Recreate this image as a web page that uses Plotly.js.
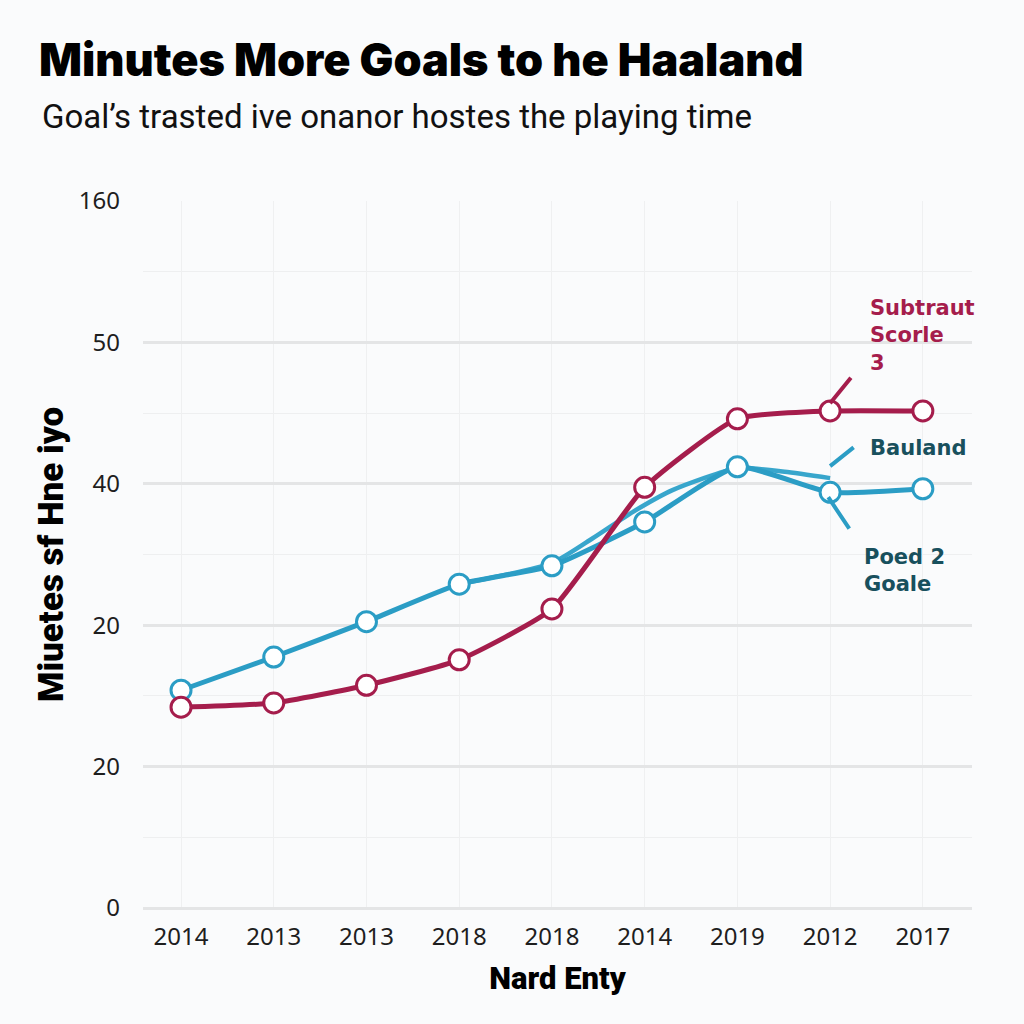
<!DOCTYPE html>
<html>
<head>
<meta charset="utf-8">
<script src="https://cdn.plot.ly/plotly-3.0.1.min.js"></script>
<style>
  html, body { margin: 0; padding: 0; background: #fafbfc; }
  #chart { width: 1024px; height: 1024px; }
</style>
</head>
<body>
<div id="chart"></div>
<script>
'use strict'

// categories (labels repeat, so positions are indexes)
var years = ['2014', '2013', '2013', '2018', '2018', '2014', '2019', '2012', '2017'];
var idx = [0, 1, 2, 3, 4, 5, 6, 7, 8];

// y ticks (labels as printed on the picture)
var yTickVals = [0, 20, 40, 60, 80, 100];
var yTickText = ['0', '20', '20', '40', '50', '160'];

// series values
var subtraut = [28.4, 29.0, 31.5, 35.1, 42.3, 59.5, 69.2, 70.3, 70.3];
var bauland = [30.8, 35.5, 40.5, 45.8, 48.4, 54.6, 62.4, 58.8, 59.3];

// second, fainter blue path
var poedX = [3, 4, 4.44, 4.87, 5.3, 6, 6.51, 7];
var poedY = [45.8, 48.8, 52.3, 56.0, 59.1, 62.2, 61.7, 60.8];

var red = '#a51d4c';
var blue = '#2b9dc5';
var teal = '#18505d';

var poedTrace = {
    type: 'scatter',
    mode: 'lines',
    x: poedX,
    y: poedY,
    line: {color: '#38a6cc', width: 4.5, shape: 'spline', smoothing: 0.6},
    hoverinfo: 'skip'
}

var baulandTrace = {
    type: 'scatter',
    mode: 'lines+markers',
    x: idx,
    y: bauland,
    line: {color: blue, width: 5, shape: 'spline', smoothing: 0.5},
    marker: {size: 20, color: '#ffffff', line: {color: blue, width: 3}},
    cliponaxis: false
}

var subtrautTrace = {
    type: 'scatter',
    mode: 'lines+markers',
    x: idx,
    y: subtraut,
    line: {color: red, width: 5, shape: 'spline', smoothing: 0.5},
    marker: {size: 20, color: '#ffffff', line: {color: red, width: 3}},
    cliponaxis: false
}

var annFont = {family: 'DejaVu Sans, sans-serif', size: 21, weight: 700};

var layout = {
    width: 1024,
    height: 1024,
    margin: {l: 143, r: 52, t: 201, b: 116},
    paper_bgcolor: '#fafbfc',
    plot_bgcolor: '#fafbfc',
    showlegend: false,
    title: {
        text: 'Minutes More Goals to he Haaland',
        font: {family: 'Inter, sans-serif', size: 45, weight: 900, color: '#000000'},
        xref: 'container',
        yref: 'container',
        x: 0.038,
        xanchor: 'left',
        y: 0.941,
        yanchor: 'middle'
    },
    xaxis: {
        range: [-0.41, 8.53],
        tickmode: 'array',
        tickvals: idx,
        ticktext: years,
        showgrid: true,
        gridcolor: '#eff0f1',
        gridwidth: 1,
        zeroline: false,
        showline: false,
        ticks: '',
        ticklabelstandoff: 12,
        tickfont: {family: 'Noto Sans, sans-serif', size: 24, color: '#1e1e1e'},
        title: {
            text: 'Nard Enty',
            font: {family: 'Roboto, sans-serif', size: 31, weight: 900, color: '#000000'},
            standoff: 16
        }
    },
    yaxis: {
        range: [0, 100],
        tickmode: 'array',
        tickvals: yTickVals,
        ticktext: yTickText,
        showgrid: true,
        gridcolor: '#e4e5e6',
        gridwidth: 3,
        zeroline: true,
        zerolinecolor: '#e4e5e6',
        zerolinewidth: 3,
        showline: false,
        ticks: '',
        ticklabelstandoff: 22,
        tickfont: {family: 'Noto Sans, sans-serif', size: 24, color: '#1e1e1e'},
        minor: {
            tickmode: 'array',
            tickvals: [10, 30, 50, 70, 90],
            showgrid: true,
            gridcolor: '#eeeff0',
            gridwidth: 1
        },
        title: {
            text: 'Miuetes sf Hne iyo',
            font: {family: 'Roboto, sans-serif', size: 35, weight: 900, color: '#000000'},
            standoff: 4
        }
    },
    annotations: [
        {
            xref: 'paper', yref: 'paper', x: -0.1242, y: 1.119,
            xanchor: 'left', yanchor: 'middle', showarrow: false,
            text: "Goal’s trasted ive onanor hostes the playing time",
            font: {family: 'Roboto, sans-serif', size: 33, color: '#111111'}
        },
        {
            xref: 'paper', yref: 'paper', x: 0.8745, y: 0.868,
            xanchor: 'left', yanchor: 'top', align: 'left', showarrow: false,
            text: 'Subtraut<br>Scorle<br>3',
            font: Object.assign({}, annFont, {color: red})
        },
        {
            xref: 'paper', yref: 'paper', x: 0.8745, y: 0.651,
            xanchor: 'left', yanchor: 'middle', showarrow: false,
            text: 'Bauland',
            font: Object.assign({}, annFont, {color: teal})
        },
        {
            xref: 'paper', yref: 'paper', x: 0.867, y: 0.478,
            xanchor: 'left', yanchor: 'middle', align: 'left', showarrow: false,
            text: 'Poed 2<br>Goale',
            font: Object.assign({}, annFont, {color: teal})
        },
        // pointer strokes
        {
            x: 7, y: 71.4, text: '', showarrow: true, arrowhead: 0,
            arrowwidth: 4, arrowcolor: red, ax: 22, ay: -27, standoff: 0
        },
        {
            x: 7, y: 62.5, text: '', showarrow: true, arrowhead: 0,
            arrowwidth: 4, arrowcolor: blue, ax: 25, ay: -20, standoff: 0
        },
        {
            x: 6.98, y: 58.1, text: '', showarrow: true, arrowhead: 0,
            arrowwidth: 4, arrowcolor: blue, ax: 22, ay: 33, standoff: 0
        }
    ]
}

Plotly.newPlot('chart', [poedTrace, baulandTrace, subtrautTrace], layout, {displayModeBar: false});
</script>
</body>
</html>
